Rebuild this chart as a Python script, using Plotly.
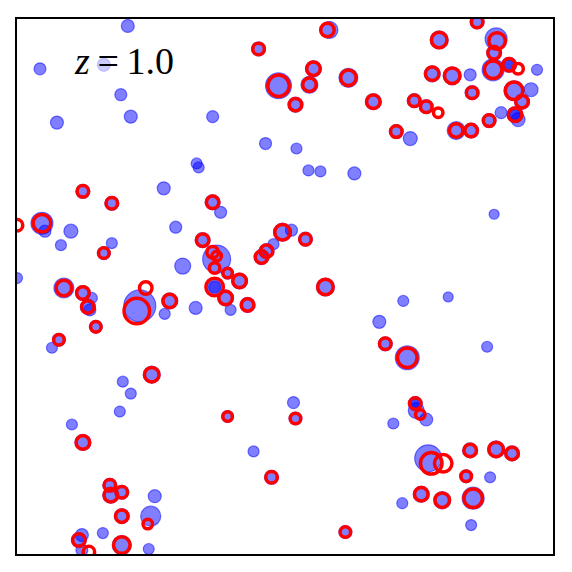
import plotly.graph_objects as go

# box is 537 units on a side; positions
blue_x = [111, 23, 87, 104, 40, 114, 196, 249, 180, 182, 147, 204, 159, 54, 44, 95, 166, 200, 257, 275,
          148, 179, 214, 35, 75, 73, 123, 28, 0, 106, 114, 103, 55, 237, 138, 134, 86, 132, 65, 280,
          292, 304, 338, 387, 432, 363, 471, 277, 377, 400, 410, 412, 474, 386, 455, 478, 454, 521, 515, 485,
          502, 394, 65, 313, 480, 198, 493, 499, 399,
          242, 262, 297, 293, 332, 279, 357, 196, 186, 266, 289, 250, 245, 211, 223, 198, 209, 153, 231, 66,
          95, 25, 87, 47, 66, 71, 79, 42, 135, 66, 211, 255, 93, 94, 105, 105, 62, 105, 309, 369,
          391, 279, 399, 454, 480, 496, 450, 405, 426, 457, 329, 461, 423, 478, 416, 436, 477, 493, 498, 506,
          499, 473, 456, 398, 410, 440, 455, 380]
blue_y = [530, 487, 491, 461, 433, 439, 439, 412, 392, 388, 367, 343, 328, 324, 310, 312, 289, 296, 311, 325,
          241, 247, 245, 207, 257, 245, 249, 324, 277, 173, 161, 143, 130, 103, 58, 38, 21, 5, 19, 407,
          385, 384, 382, 254, 258, 233, 208, 152, 131, 144, 135, 96, 77, 51, 29, 341, 481, 486, 466, 443,
          436, 417, 4, 526, 517, 268, 491, 441, 151,
          507, 470, 487, 471, 478, 451, 454, 353, 315, 323, 316, 304, 298, 282, 274, 268, 257, 254, 250, 364,
          352, 332, 302, 267, 262, 248, 228, 215, 180, 112, 138, 77, 69, 59, 62, 38, 14, 9, 268, 211,
          197, 136, 151, 104, 105, 101, 78, 60, 54, 56, 22, 534, 516, 503, 482, 480, 486, 491, 465, 454,
          441, 435, 463, 455, 449, 425, 425, 424]
blue_d = [13, 12, 13, 12, 13, 13, 12, 12, 11, 11, 13, 12, 12, 14, 11, 11, 16, 28, 11, 12,
          11, 13, 11, 11, 11, 12, 32, 12, 11, 11, 11, 11, 11, 11, 13, 20, 11, 11, 13, 11,
          11, 11, 13, 11, 10, 13, 11, 12, 11, 16, 13, 27, 11, 11, 11, 10, 12, 11, 14, 12,
          14, 14, 12, 17, 22, 12, 10, 10, 10,
          14, 26, 16, 17, 19, 15, 16, 15, 15, 18, 14, 15, 15, 12, 16, 18, 16, 16, 15, 14,
          14, 22, 13, 20, 15, 15, 13, 13, 17, 16, 12, 14, 14, 16, 14, 15, 15, 19, 18, 14,
          24, 13, 14, 15, 17, 15, 13, 16, 17, 22, 13, 14, 18, 15, 16, 18, 22, 15, 20, 15,
          16, 14, 14, 14, 14, 18, 15, 14]

red_x = [242, 311, 262, 297, 293, 332, 279, 357, 196, 186, 266, 289, 250, 245, 196, 200, 198, 211, 223, 198,
         209, 153, 231, 66, 95, 25, 87, 0, 47, 66, 71, 79, 42, 129, 120, 135, 66, 211, 255, 93,
         94, 105, 105, 131, 62, 105, 72, 309, 369, 391, 279, 399, 404, 415, 427, 454, 480, 496, 450, 405,
         426, 457, 329, 461, 423, 481, 478, 416, 436, 477, 493, 502, 498, 506, 499, 473, 456, 398, 410, 422,
         440, 455, 380]
red_y = [507, 526, 470, 487, 471, 478, 451, 454, 353, 315, 323, 316, 304, 298, 303, 299, 287, 282, 274, 268,
         257, 254, 250, 364, 352, 332, 302, 330, 267, 262, 248, 228, 215, 267, 244, 180, 112, 138, 77, 69,
         59, 62, 38, 30, 14, 9, 2, 268, 211, 197, 136, 151, 140, 91, 91, 104, 105, 101, 78, 60,
         54, 56, 22, 534, 516, 515, 503, 482, 480, 486, 491, 487, 465, 454, 441, 435, 463, 455, 449, 443,
         425, 425, 424]
red_d = [14, 16, 24, 16, 16, 18, 15, 16, 15, 15, 18, 14, 15, 15, 14, 12, 13, 12, 16, 20,
         16, 16, 15, 14, 14, 20, 13, 14, 18, 15, 15, 13, 13, 15, 28, 17, 16, 12, 14, 14,
         16, 14, 15, 12, 15, 19, 14, 18, 14, 22, 13, 14, 12, 24, 20, 15, 17, 15, 13, 16,
         17, 21, 13, 14, 18, 19, 15, 16, 18, 20, 15, 13, 20, 15, 16, 14, 14, 14, 14, 12,
         16, 15, 14]

fig = go.Figure()
fig.add_trace(go.Scatter(
    x=blue_x, y=blue_y, mode="markers",
    marker=dict(size=blue_d, color="rgba(0,0,255,0.5)", opacity=1,
                line=dict(color="rgba(0,0,255,0.5)", width=1.2)),
    showlegend=False,
))
fig.add_trace(go.Scatter(
    x=red_x, y=red_y, mode="markers",
    marker=dict(size=[d - 2.5 for d in red_d], color="rgba(0,0,0,0)", opacity=1,
                line=dict(color="#ff0000", width=3.5)),
    showlegend=False,
))

fig.add_annotation(
    x=107, y=495, xref="x", yref="y", showarrow=False,
    text="<i>z</i>\u2009=\u20091.0",
    font=dict(family="Liberation Serif", size=38, color="black"),
    bgcolor="rgba(255,255,255,0.6)", borderpad=0,
)

axis = dict(range=[0, 537], showgrid=False, zeroline=False, showticklabels=False,
            ticks="", showline=True, linecolor="black", linewidth=2, mirror=True)
fig.update_xaxes(**axis)
fig.update_yaxes(**axis)
# page body adds an 8px offset, so the margins are trimmed to match
fig.update_layout(
    width=556, height=556,
    margin=dict(l=9, r=10, t=9, b=10),
    plot_bgcolor="white", paper_bgcolor="white",
)
fig.write_html("out.html")
